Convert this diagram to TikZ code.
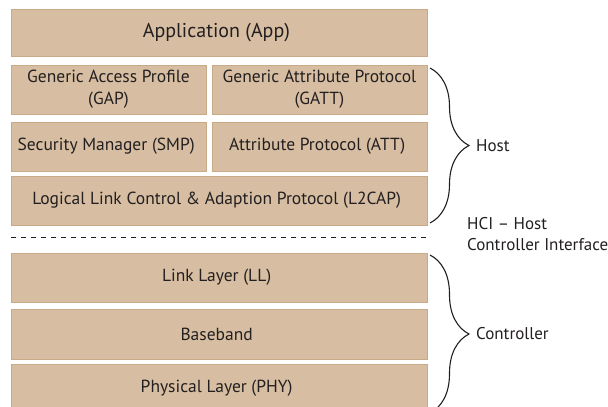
\documentclass[tikz,border=0pt]{standalone}
\usepackage{fontspec}
\setmainfont{PT Sans}
\usetikzlibrary{
  positioning,
  calc,
  decorations.pathreplacing}
\definecolor{layercolor}{RGB}{215,190,162}
\definecolor{edgecolor}{RGB}{201,170,135}
\definecolor{textcolor}{RGB}{35,31,32}
\tikzset{
  %% layer : one layer of the protocol stack
  layer/.style={
    rectangle,
    fill=layercolor,
    draw=edgecolor,
    line width=0.8pt,
    text=textcolor,
    minimum height=49pt,
    inner sep=0pt,
    outer sep=0pt,
    font=\fontsize{17.5}{22}\selectfont,
    align=center
  },
  %% wide : a layer across the whole stack
  wide/.style={minimum width=416pt},
  %% leftbox / rightbox : half layers
  leftbox/.style={minimum width=195pt},
  rightbox/.style={minimum width=215pt},
  %% group : brace round a group of layers
  group/.style={
    decorate,
    decoration={brace, amplitude=39pt},
    line width=1.1pt,
    textcolor
  },
  %% grouplabel : text at the tip of a brace
  grouplabel/.style={
    anchor=west,
    text=textcolor,
    font=\fontsize{17}{21}\selectfont,
    align=left,
    inner sep=0pt
  },
  %% hci : the dashed line between host and controller
  hci/.style={textcolor, line width=0.9pt, dash pattern=on 4.5pt off 5.5pt}
}

\begin{document}
\begin{tikzpicture}
  [x=1pt,
  y=-1pt]

  \useasboundingbox (0,0) rectangle (608,407);

  %% Host layers
  \node (app) [layer, wide, minimum height=47pt,
    font=\fontsize{20}{24}\selectfont] at (219, 32.5) {%
    Application (App)
  };

  \node (gap) [layer, leftbox, below=9pt of app.south west, anchor=north west]{%
    Generic Access Profile\\(GAP)
  };

  \node (gatt) [layer, rightbox, below=9pt of app.south east, anchor=north east]{%
    Generic Attribute Protocol\\(GATT)
  };

  \node (smp) [layer, leftbox, below=8pt of gap]{%
    Security Manager (SMP)
  };

  \node (att) [layer, rightbox, below=8pt of gatt]{%
    Attribute Protocol (ATT)
  };

  \node (l2cap) [layer, wide, below=5pt of smp.south west, anchor=north west]{%
    Logical Link Control \& Adaption Protocol (L2CAP)
  };

  %% Controller layers
  \node (ll) [layer, wide, below=28pt of l2cap]{%
    Link Layer (LL)
  };

  \node (baseband) [layer, wide, minimum height=50pt, below=7pt of ll]{%
    Baseband
  };

  \node (phy) [layer, wide, below=5pt of baseband]{%
    Physical Layer (PHY)
  };

  %% HCI line
  \coordinate (hcileft) at ($(l2cap.south west)+(0,12)$);
  \coordinate (hciright) at ($(l2cap.south east)+(0,12)$);
  \draw [hci] (hcileft) -- (hciright);

  %% Braces
  \coordinate (hosttop) at ($(gatt.north east)+(3,3)$);
  \coordinate (hostbottom) at ($(l2cap.south east)+(3,-2)$);
  \draw [group] (hosttop) -- (hostbottom);
  \node (host) [grouplabel] at ($(hosttop)!0.5!(hostbottom)+(46,0)$) {Host};

  \coordinate (ctrltop) at ($(ll.north east)+(3,2)$);
  \coordinate (ctrlbottom) at ($(phy.south east)+(3,0)$);
  \draw [group] (ctrltop) -- (ctrlbottom);
  \node (controller) [grouplabel] at ($(ctrltop)!0.5!(ctrlbottom)+(46,0)$) {Controller};

  \node (hcilabel) [grouplabel] at ($(hciright)+(40,-3)$) {%
    HCI -- Host\\Controller Interface
  };

\end{tikzpicture}
\end{document}
